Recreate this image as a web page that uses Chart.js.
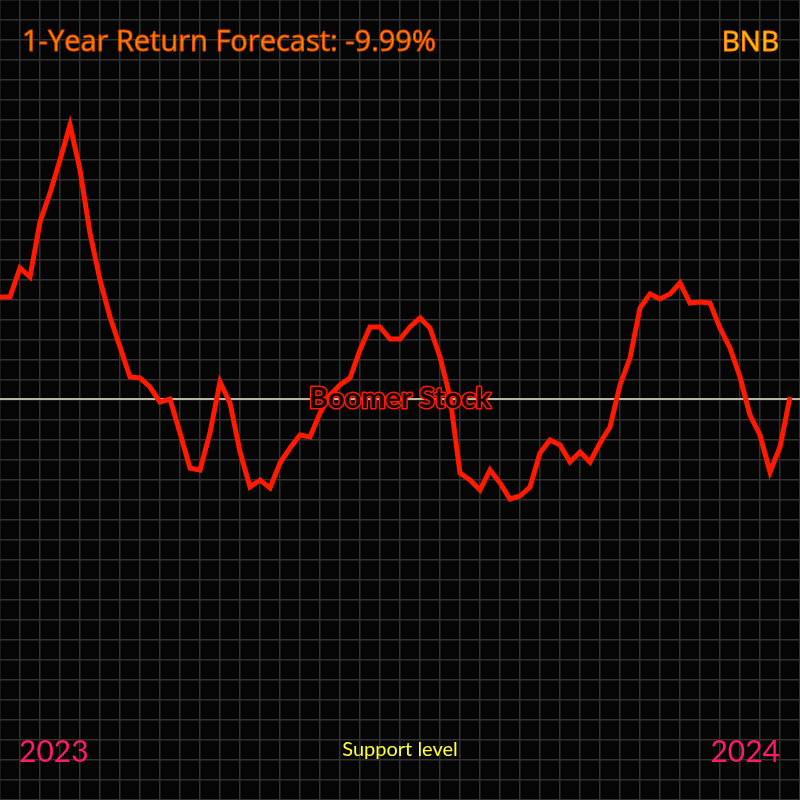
<!DOCTYPE html>
<html>
<head>
<meta charset="utf-8">
<script src="https://cdn.jsdelivr.net/npm/chart.js@4"></script>
<style>
html,body{margin:0;padding:0;background:#000;}
#wrap{width:800px;height:800px;position:relative;}
</style>
</head>
<body>
<div id="wrap"><canvas id="c" width="800" height="800"></canvas></div>
<script>
// ---- data ----
const steps = [];
for (let i = 0; i < 80; i++) steps.push(i);
const priceValues = [
  103,103,132,123,178,207,240,275,230,167,120,83,53,23,22,13,-2,1,-33,-68,
  -70,-33,18,-3,-52,-87,-80,-88,-63,-48,-35,-37,-13,5,15,22,50,73,73,61,
  61,73,82,72,43,3,-73,-80,-90,-70,-83,-99,-96,-87,-53,-40,-45,-62,-52,-62,
  -43,-27,15,42,92,106,101,106,117,97,98,97,72,52,23,-15,-35,-72,-47,3
];
const supportValues = [1, 1];
const supportSteps = [0, 80];
const titleText = "1-Year Return Forecast: -9.99%";
const tickerText = "BNB";
const watermarkText = "Boomer Stock";
const startLabel = "2023";
const endLabel = "2024";
const supportLabel = "Support level";

const priceData = steps.map((s, i) => ({x: s, y: priceValues[i]}));
const supportData = supportSteps.map((s, i) => ({x: s, y: supportValues[i]}));

const textPlugin = {
  id: 'texts',
  afterDraw(chart) {
    const ctx = chart.ctx;
    ctx.save();
    ctx.lineJoin = 'round';
    ctx.textBaseline = 'middle';
    // title
    ctx.font = '29px "Open Sans"';
    ctx.textAlign = 'left';
    ctx.lineWidth = 1;
    ctx.strokeStyle = '#e04800';
    ctx.fillStyle = '#ff8c00';
    ctx.fillText(titleText, 22, 43);
    ctx.strokeText(titleText, 22, 43);
    // ticker
    ctx.textAlign = 'right';
    ctx.font = '28px "Open Sans"';
    ctx.strokeStyle = '#ff7a00';
    ctx.fillStyle = '#ffd000';
    ctx.fillText(tickerText, 779, 43);
    ctx.strokeText(tickerText, 779, 43);
    // watermark
    ctx.textAlign = 'center';
    ctx.font = 'bold 29px Lato';
    ctx.lineWidth = 3;
    ctx.strokeStyle = '#ff1a00';
    ctx.fillStyle = '#140000';
    ctx.strokeText(watermarkText, 400, 399);
    ctx.fillText(watermarkText, 400, 399);
    // bottom labels
    ctx.font = '30px Lato';
    ctx.fillStyle = '#ff1a6a';
    ctx.textAlign = 'left';
    ctx.fillText(startLabel, 19, 752);
    ctx.textAlign = 'right';
    ctx.fillText(endLabel, 780, 752);
    ctx.font = '20px Lato';
    ctx.fillStyle = '#ffff33';
    ctx.textAlign = 'center';
    ctx.fillText(supportLabel, 400, 750);
    ctx.restore();
  }
};

const bgPlugin = {
  id: 'bg',
  beforeDraw(chart) {
    const ctx = chart.ctx;
    ctx.save();
    ctx.fillStyle = '#050505';
    ctx.fillRect(0, 0, chart.width, chart.height);
    ctx.restore();
  }
};

new Chart(document.getElementById('c'), {
  type: 'line',
  data: {
    datasets: [
      {
        label: 'Support level',
        data: supportData,
        borderColor: '#b8b8a0',
        borderWidth: 2,
        pointRadius: 0,
        order: 2
      },
      {
        label: 'Price',
        data: priceData,
        borderColor: '#ff1a00',
        borderWidth: 5,
        borderJoinStyle: 'miter',
        pointRadius: 0,
        tension: 0,
        order: 1
      }
    ]
  },
  options: {
    responsive: false,
    animation: false,
    devicePixelRatio: 1,
    layout: {padding: 0},
    plugins: {legend: {display: false}, tooltip: {enabled: false}},
    scales: {
      x: {
        type: 'linear', min: 0, max: 80,
        ticks: {display: false, stepSize: 2},
        grid: {color: '#333333', lineWidth: 1.5, drawTicks: false},
        border: {display: false}
      },
      y: {
        type: 'linear', min: -400, max: 400,
        ticks: {display: false, stepSize: 20},
        grid: {color: '#333333', lineWidth: 1.5, drawTicks: false},
        border: {display: false}
      }
    }
  },
  plugins: [bgPlugin, textPlugin]
});
</script>
</body>
</html>
